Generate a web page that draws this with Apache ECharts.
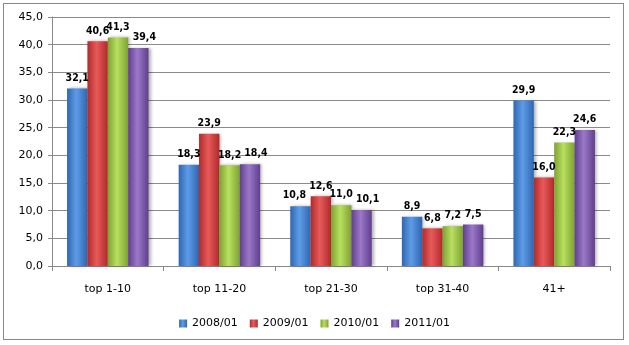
<!DOCTYPE html>
<html><head><meta charset="utf-8">
<script src="https://cdn.jsdelivr.net/npm/echarts@6/dist/echarts.min.js"></script>
<style>html,body{margin:0;padding:0;background:#fff}#c{width:629px;height:345px;position:relative}
#b{position:absolute;left:3px;top:3px;width:621px;height:337px;border:1px solid #888;box-sizing:border-box;pointer-events:none}</style>
</head><body><div id="c"></div><div id="b"></div>
<script>
const categories = ['top 1-10', 'top 11-20', 'top 21-30', 'top 31-40', '41+'];
const seriesNames = ['2008/01', '2009/01', '2010/01', '2011/01'];
const s2008 = [32.1, 18.3, 10.8, 8.9, 29.9];
const s2009 = [40.6, 23.9, 12.6, 6.8, 16.0];
const s2010 = [41.3, 18.2, 11.0, 7.2, 22.3];
const s2011 = [39.4, 18.4, 10.1, 7.5, 24.6];
const yTicks = {min: 0, max: 45, interval: 5};

const colors = [
  ['#2f66b0', '#5e9ce8'],
  ['#b02a2a', '#e85a5a'],
  ['#7ea232', '#b8e060'],
  ['#603e8e', '#9b78c8']
];
function grad(c){
  return new echarts.graphic.LinearGradient(0,0,1,0,[
    {offset:0,color:c[0]},{offset:0.45,color:c[1]},{offset:1,color:c[0]}
  ]);
}
const data = [s2008, s2009, s2010, s2011];
const fmt = v => v.toFixed(1).replace('.', ',');
const chart = echarts.init(document.getElementById('c'));

// simple collision avoidance for data labels: outer labels move outward when
// they collide with their neighbour
const LABEL_H = 11, SHIFT = 6;
function py(s, j){ return chart.convertToPixel({seriesIndex: s}, [j, data[s][j]])[1]; }
function collides(p, s, k){
  const j = p.dataIndex;
  const ownLen = fmt(data[s][j]).length, nbLen = fmt(data[k][j]).length;
  const wOwn = p.labelRect.width, wNb = wOwn * nbLen / ownLen;
  const barW = p.rect.width;
  const hOverlap = (wOwn + wNb) / 2 > barW + 1;
  return hOverlap && Math.abs(py(s, j) - py(k, j)) < LABEL_H;
}
function labelLayout(p){
  const s = p.seriesIndex, n = data.length;
  let dx = 0;
  try {
    if (s === 0 && collides(p, 0, 1)) dx = -SHIFT;
    if (s === n - 1 && collides(p, n - 1, n - 2)) dx = SHIFT;
  } catch (e) {}
  return {dx: dx};
}

chart.setOption({
  animation: false,
  textStyle: {fontFamily: 'DejaVu Sans'},
  grid: {left: 52, right: 19, top: 17, bottom: 79},
  legend: {
    bottom: 11, left: 'center', itemWidth: 8, itemHeight: 8, itemGap: 12, icon: 'rect',
    textStyle: {fontSize: 11, color: '#000', fontFamily: 'DejaVu Sans'},
    data: seriesNames.map((n,i)=>({name:n, itemStyle:{color:grad(colors[i])}}))
  },
  xAxis: {
    type: 'category', data: categories,
    axisLine: {lineStyle: {color: '#888'}},
    axisTick: {show: true, length: 5, lineStyle: {color: '#888'}},
    axisLabel: {color: '#000', fontSize: 11, margin: 18}
  },
  yAxis: {
    type: 'value', min: yTicks.min, max: yTicks.max, interval: yTicks.interval,
    axisLine: {show: true, lineStyle: {color: '#888'}},
    axisTick: {show: true, length: 4, lineStyle: {color: '#888'}},
    splitLine: {lineStyle: {color: '#8a8a8a'}},
    axisLabel: {color: '#000', fontSize: 11, margin: 9, formatter: v => fmt(v)}
  },
  series: data.map((d, i) => ({
    name: seriesNames[i], type: 'bar', data: d,
    barGap: '0%', barCategoryGap: '27%',
    itemStyle: {color: grad(colors[i]), shadowColor: 'rgba(0,0,0,0.3)', shadowBlur: 3, shadowOffsetX: 2},
    label: {show: true, position: 'top', distance: 5, color: '#000', fontSize: 10.5, fontWeight: 'bold',
            fontFamily: 'DejaVu Sans Condensed', formatter: p => fmt(p.value)},
    labelLayout: labelLayout
  }))
});
</script></body></html>
